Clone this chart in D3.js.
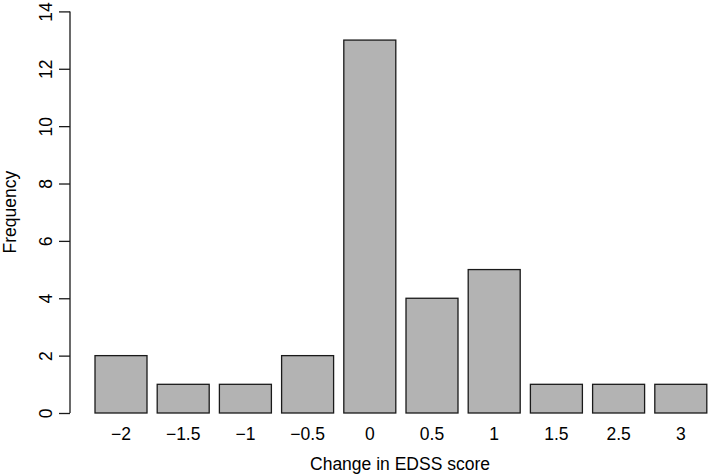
<!DOCTYPE html>
<html>
  <head>
    <title></title>
    <script src="https://cdnjs.cloudflare.com/ajax/libs/d3/7.8.5/d3.min.js"></script>
    <style>
      body { margin: 0; background: #fff; }
      text { font-family: "Liberation Sans", Arial, sans-serif; fill: #000; }
    </style>
  </head>
  <body>
    <script type="text/javascript">

    let categories = ["\u22122", "\u22121.5", "\u22121", "\u22120.5", "0", "0.5", "1", "1.5", "2.5", "3"]
    let frequency = [2, 1, 1, 2, 13, 4, 5, 1, 1, 1]
    let yTicks = [0, 2, 4, 6, 8, 10, 12, 14]

    let outerWidth = 709;
    let outerHeight = 476;
    let fontSize = 17.5;

    let svg = d3.select("body").append("svg")
      .attr("width", outerWidth)
      .attr("height", outerHeight)

    let xScale = d3.scaleBand()
      .domain(categories)
      .range([89.9, 711.9])
      .paddingInner(0.164)
      .paddingOuter(0.082);

    let yScale = d3.scaleLinear().domain([0, 14]).range([413, 11.4]);

    // bars
    svg.selectAll("rect.bar").data(frequency).enter().append("rect")
      .attr("class", "bar")
      .attr("x", function(d, i) { return xScale(categories[i]); })
      .attr("y", function(d) { return yScale(d); })
      .attr("width", xScale.bandwidth())
      .attr("height", function(d) { return yScale(0) - yScale(d); })
      .attr("fill", "#b3b3b3")
      .attr("stroke", "#1a1a1a")
      .attr("stroke-width", 1.3);

    // y axis
    let yAxis = d3.axisLeft(yScale).tickValues(yTicks).tickSize(11).tickFormat(d3.format("d"));
    let gy = svg.append("g").attr("transform", "translate(70,0)").call(yAxis);
    gy.select(".domain").attr("stroke", "#1a1a1a").attr("stroke-width", 1.3).attr("d", "M0," + yScale(14) + "V" + yScale(0));
    gy.selectAll(".tick line").attr("stroke", "#1a1a1a").attr("stroke-width", 1.3);
    gy.selectAll(".tick text")
      .attr("font-size", fontSize)
      .attr("x", null).attr("dy", null)
      .attr("text-anchor", "middle")
      .attr("transform", "translate(-18,0) rotate(-90)");

    // x labels (no axis line, as in R barplot)
    svg.selectAll("text.xlab").data(categories).enter().append("text")
      .attr("class", "xlab")
      .attr("x", function(d) { return xScale(d) + xScale.bandwidth() / 2; })
      .attr("y", 440)
      .attr("text-anchor", "middle")
      .attr("font-size", fontSize)
      .text(function(d) { return d; });

    svg.append("text")
      .attr("x", 400)
      .attr("y", 469.5)
      .attr("text-anchor", "middle")
      .attr("font-size", fontSize)
      .text("Change in EDSS score");

    svg.append("text")
      .attr("transform", "translate(15.5," + yScale(7) + ") rotate(-90)")
      .attr("text-anchor", "middle")
      .attr("font-size", fontSize)
      .text("Frequency");

    </script>
  </body>
</html>
